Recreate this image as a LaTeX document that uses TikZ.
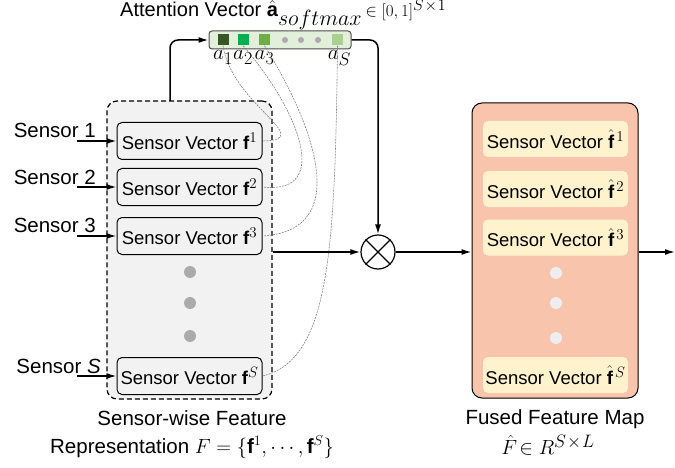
\RequirePackage{fix-cm}
\documentclass[tikz,border=0pt]{standalone}
\usepackage{fontspec}
\setmainfont{Liberation Sans}
\usetikzlibrary{arrows.meta,positioning,calc}

\definecolor{panelgray}{HTML}{F2F2F2}
\definecolor{fusedred}{HTML}{F8C4AB}
\definecolor{fusedcell}{HTML}{FFF2CC}
\definecolor{attbg}{HTML}{E2EFDA}
\definecolor{aone}{HTML}{375623}
\definecolor{atwo}{HTML}{00B050}
\definecolor{athree}{HTML}{70AD47}
\definecolor{aess}{HTML}{A9D18E}
\definecolor{dotgray}{HTML}{ABABAB}
\definecolor{dotlight}{HTML}{EEEEEE}

\newcommand{\bigfont}{\fontsize{20.5}{24}\selectfont}
% index set at a fixed size
\newcommand{\idx}[2]{\mbox{\fontsize{#1}{#1}\selectfont$#2$}}

\tikzset{
  sensorbox/.style={draw, line width=1pt, rounded corners=5pt, fill=panelgray,
    minimum width=145pt, minimum height=37pt, inner sep=1pt},
  fusedbox/.style={rounded corners=5pt, fill=fusedcell,
    minimum width=145pt, minimum height=36pt, inner sep=1pt},
  attcell/.style={fill=#1, minimum size=11pt, inner sep=0pt},
  bigdot/.style={circle, fill=#1, minimum size=12pt, inner sep=0pt},
  flow/.style={line width=1.5pt, -{Latex[length=10pt,width=6pt]}},
  attline/.style={gray, line width=0.6pt, dash pattern=on 2pt off 1pt}
}

\begin{document}
\begin{tikzpicture}[x=1pt, y=-1pt, font=\fontsize{18.5}{21}\selectfont]

  \useasboundingbox (0,0) rectangle (675,468);

  % attention vector on top
  \node[anchor=base west, inner sep=0pt, font=\fontsize{20}{22}\selectfont] (title) at (120,17)
    {Attention Vector $\hat{\mathbf{a}}_{\idx{22}{softmax}}$\,%
     {\fontsize{17}{18}\selectfont$\in[0,1]^{\idx{16}{S\!\times\!1}}$}};
  \node[draw=black!70, fill=attbg, rounded corners=3pt, line width=1pt,
        minimum width=142pt, minimum height=18pt] (att) at (280,40) {};
  \node[attcell=aone]   (c1) at (223,40)   {};
  \node[attcell=atwo]   (c2) at (243,40)   {};
  \node[attcell=athree] (c3) at (264.5,40) {};
  \node[attcell=aess]   (cS) at (337.5,40) {};
  \begin{scope}[every node/.style={circle, fill=dotgray, minimum size=6pt, inner sep=0pt}]
    \node (d1) at (285,40) {};
    \node (d2) at (301,40) {};
    \node (d3) at (318,40) {};
  \end{scope}

  % sensor-wise feature panel
  \node[draw, dashed, dash pattern=on 5pt off 3pt, line width=1.2pt, fill=panelgray,
        rounded corners=10pt, minimum width=165pt, minimum height=298pt] (panel) at (189.5,250) {};
  \node[sensorbox] (s1) at (189.5,141) {Sensor Vector $\mathbf{f}^{\idx{15}{1}}$};
  \node[sensorbox] (s2) at (189.5,187) {Sensor Vector $\mathbf{f}^{\idx{15}{2}}$};
  \node[sensorbox] (s3) at (189.5,236) {Sensor Vector $\mathbf{f}^{\idx{15}{3}}$};
  \node[sensorbox] (sS) at (189.5,376) {Sensor Vector $\mathbf{f}^{\idx{15}{S}}$};
  \node[bigdot=dotgray] (p1) at (190,272) {};
  \node[bigdot=dotgray] (p2) at (190,303) {};
  \node[bigdot=dotgray] (p3) at (190,336) {};

  % sensor inputs
  \begin{scope}[every node/.style={anchor=base east, inner sep=0pt, font=\bigfont}]
    \node (l1) at (96,138)  {Sensor 1};
    \node (l2) at (96,185)  {Sensor 2};
    \node (l3) at (96,233)  {Sensor 3};
    \node (lS) at (101,373) {Sensor \textit{S}};
  \end{scope}
  \coordinate (in1) at (77,141);
  \coordinate (in2) at (77,187);
  \coordinate (in3) at (77,236);
  \coordinate (inS) at (77,376);
  \draw[flow] (in1) -- (s1);
  \draw[flow] (in2) -- (s2);
  \draw[flow] (in3) -- (s3);
  \draw[flow] (inS) -- (sS);

  % weights back to each sensor vector
  \draw[attline] (c1.south) .. controls (232,105) and (318,140) .. (s1.east);
  \draw[attline] (c2.south) .. controls (295,105) and (335,195) .. (s2.east);
  \draw[attline] (c3.south) .. controls (305,110) and (360,230) .. (s3.east);
  \draw[attline] (cS.south) .. controls (335,250) and (330,360) .. (sS.east);

  \begin{scope}[every node/.style={below=5pt, inner sep=0pt, font=\fontsize{21}{22}\selectfont}]
    \node (a1) at (c1.south) {$a_{\idx{18}{1}}$};
    \node (a2) at (c2.south) {$a_{\idx{18}{2}}$};
    \node (a3) at (c3.south) {$a_{\idx{18}{3}}$};
    \node (aS) at ([xshift=2pt]cS.south) {$a_{\idx{18}{S}}$};
  \end{scope}

  % multiplication
  \node[draw, circle, line width=1.2pt, minimum size=34pt, inner sep=0pt] (mult) at (378,252) {};
  \draw[line width=1.2pt] (mult.north east) -- (mult.south west)
                          (mult.north west) -- (mult.south east);

  % fused feature map
  \node[draw, line width=1pt, fill=fusedred, rounded corners=10pt,
        minimum width=166pt, minimum height=295pt] (fused) at (555,250.5) {};
  \node[fusedbox] (g1) at (555.5,139)   {Sensor Vector $\hat{\mathbf{f}}^{\,\idx{15}{1}}$};
  \node[fusedbox] (g2) at (555.5,189)   {Sensor Vector $\hat{\mathbf{f}}^{\,\idx{15}{2}}$};
  \node[fusedbox] (g3) at (555.5,237.5) {Sensor Vector $\hat{\mathbf{f}}^{\,\idx{15}{3}}$};
  \node[fusedbox] (gS) at (555.5,375)   {Sensor Vector $\hat{\mathbf{f}}^{\,\idx{15}{S}}$};
  \node[bigdot=dotlight] (q1) at (556,273) {};
  \node[bigdot=dotlight] (q2) at (556,303) {};
  \node[bigdot=dotlight] (q3) at (556,338) {};

  % main flow
  \coordinate (tap) at (170,101);
  \coordinate (out) at (675,252);
  \draw[flow, rounded corners=8pt] (tap) |- (att.west);
  \draw[flow, rounded corners=8pt] (att.east) -| (mult.north);
  \draw[flow] (panel.east |- mult) -- (mult);
  \draw[flow] (mult) -- (fused.west |- mult);
  \draw[flow] (fused.east |- mult) -- (out);

  % captions
  \begin{scope}[every node/.style={font=\bigfont}]
    \node (cap1) at (192,418) {Sensor-wise Feature};
    \node (cap2) at (192,447) {Representation $F=\{\mathbf{f}^1,\cdots,\mathbf{f}^S\}$};
    \node (cap3) at (555,419) {Fused Feature Map};
    \node (cap4) at (548,445) {$\hat{F}\!\in R^{\idx{18}{S\!\times\! L}}$};
  \end{scope}

\end{tikzpicture}
\end{document}
